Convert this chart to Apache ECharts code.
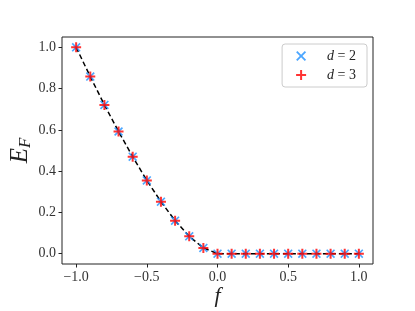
<!DOCTYPE html>
<html><head><meta charset="utf-8">
<script src="https://cdn.jsdelivr.net/npm/echarts@6/dist/echarts.min.js"></script>
<style>html,body{margin:0;padding:0;background:#fff}#c{width:415px;height:311px}</style>
</head><body><div id="c"></div>
<script>
const fValues = [-1.0,-0.9,-0.8,-0.7,-0.6,-0.5,-0.4,-0.3,-0.2,-0.1,0.0,0.1,0.2,0.3,0.4,0.5,0.6,0.7,0.8,0.9,1.0];
const efD2 = [1.0,0.858,0.721,0.592,0.470,0.355,0.252,0.160,0.084,0.028,0,0,0,0,0,0,0,0,0,0,0];
const efD3 = [1.0,0.858,0.721,0.592,0.470,0.355,0.252,0.160,0.084,0.028,0,0,0,0,0,0,0,0,0,0,0];
const efCurve = [1.0,0.858,0.721,0.592,0.470,0.355,0.252,0.160,0.084,0.028,0,0,0,0,0,0,0,0,0,0,0];
const xTicks = [-1.0,-0.5,0.0,0.5,1.0];
const yTicks = [0.0,0.2,0.4,0.6,0.8,1.0];

const serif = '"Liberation Serif", "DejaVu Serif", serif';
const plusPath = 'path://M4,0H6V4H10V6H6V10H4V6H0V4H4Z';
const crossPath = 'path://M1.3,0L5,3.7L8.7,0L10,1.3L6.3,5L10,8.7L8.7,10L5,6.3L1.3,10L0,8.7L3.7,5L0,1.3Z';
const zip = (xs, ys) => xs.map((x, i) => [x, ys[i]]);
const fmt = v => (v < 0 ? '\u2212' : '') + Math.abs(v).toFixed(1);

const chart = echarts.init(document.getElementById('c'), null, {renderer: 'canvas'});
chart.setOption({
  animation: false,
  backgroundColor: '#fff',
  grid: {left: 62, right: 42, top: 37, bottom: 47, outerBoundsMode: 'none', containLabel: false,
    show: true, borderColor: '#222', borderWidth: 1, backgroundColor: 'transparent'},
  xAxis: {
    type: 'value', min: -1.1, max: 1.1, position: 'bottom',
    axisLine: {show: false, onZero: false},
    splitLine: {show: false},
    axisTick: {show: true, inside: false, length: 3.5, lineStyle: {color: '#222'}, customValues: xTicks},
    axisLabel: {show: true, customValues: xTicks, formatter: fmt, fontFamily: serif, fontSize: 14, color: '#333', margin: 6},
    name: 'f', nameLocation: 'middle', nameGap: 21, nameMoveOverlap: false,
    nameTextStyle: {fontFamily: serif, fontStyle: 'italic', fontSize: 22, color: '#222'}
  },
  yAxis: {
    type: 'value', min: -0.05, max: 1.05, position: 'left',
    axisLine: {show: false, onZero: false},
    splitLine: {show: false},
    axisTick: {show: true, inside: false, length: 3.5, lineStyle: {color: '#222'}, customValues: yTicks},
    axisLabel: {show: true, customValues: yTicks, formatter: v => v.toFixed(1), fontFamily: serif, fontSize: 14, color: '#333', margin: 6},
    name: '{e|E}{s|F}', nameLocation: 'middle', nameGap: 28, nameRotate: 90, nameMoveOverlap: false,
    nameTextStyle: {rich: {
      e: {fontFamily: serif, fontStyle: 'italic', fontSize: 25, color: '#222'},
      s: {fontFamily: serif, fontStyle: 'italic', fontSize: 17, color: '#222', verticalAlign: 'bottom', padding: [10,0,0,0]}
    }}
  },
  legend: {
    orient: 'vertical', right: 48, top: 44,
    padding: [5, 11, 5, 14],
    itemGap: 5, itemWidth: 10, itemHeight: 10,
    backgroundColor: '#fff', borderColor: '#ccc', borderWidth: 1, borderRadius: 3,
    data: [{name: 'd2', icon: crossPath}, {name: 'd3', icon: plusPath}],
    formatter: n => n === 'd2' ? '{i|d} = 2' : '{i|d} = 3',
    textStyle: {fontFamily: serif, fontSize: 14, lineHeight: 14, color: '#222', padding: [0, 0, 0, 16],
      rich: {i: {fontFamily: serif, fontStyle: 'italic', fontSize: 14, lineHeight: 14, color: '#222'}}}
  },
  series: [
    {name: 'curve', type: 'line', data: zip(fValues, efCurve), showSymbol: false, symbol: 'none',
      lineStyle: {color: '#000', width: 1.5, type: [5, 3]}, z: 1, silent: true},
    {name: 'd2', type: 'scatter', data: zip(fValues, efD2), symbol: crossPath, symbolSize: 9,
      itemStyle: {color: '#1E90FF'}, z: 2},
    {name: 'd3', type: 'scatter', data: zip(fValues, efD3), symbol: plusPath, symbolSize: 10,
      itemStyle: {color: '#FF0000'}, z: 3}
  ]
});
</script></body></html>
